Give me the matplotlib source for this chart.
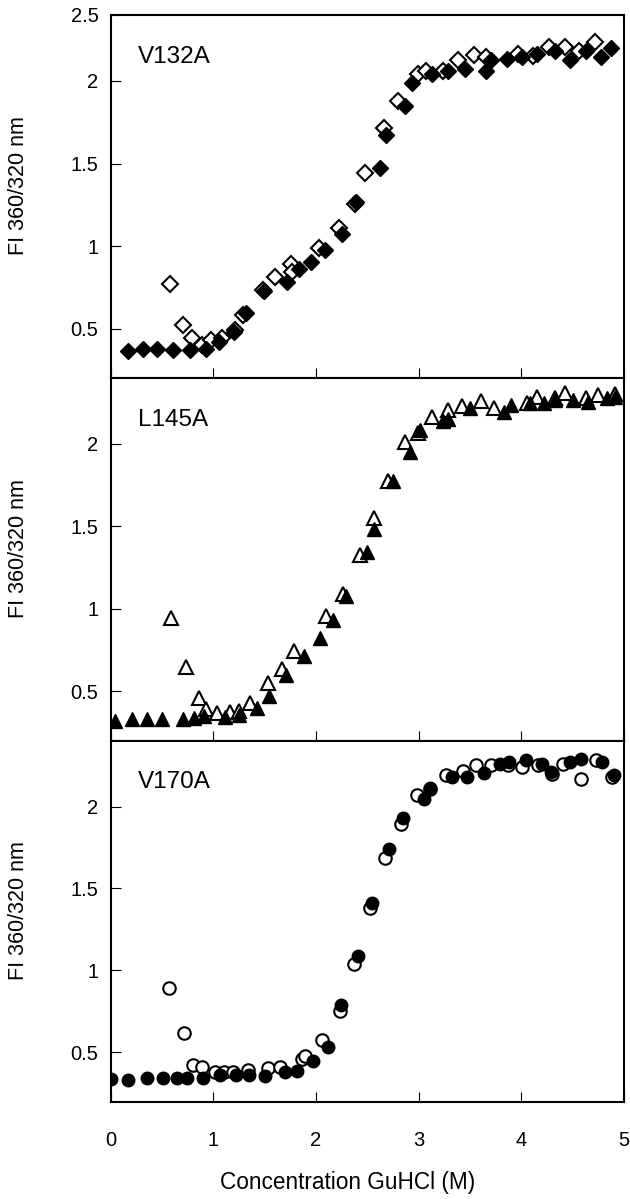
import matplotlib
matplotlib.use('Agg')
import matplotlib.pyplot as plt

plt.rcParams['font.family'] = ['Liberation Sans', 'DejaVu Sans']

# V132A, filled / open diamonds
v132_fill_x = [0.17, 0.31, 0.45, 0.61, 0.77, 0.93, 1.05, 1.20, 1.32, 1.49, 1.72, 1.83, 1.95,
               2.09, 2.25, 2.39, 2.62, 2.68, 2.87, 2.94, 3.13, 3.29, 3.45, 3.66, 3.71, 3.86,
               4.01, 4.15, 4.33, 4.48, 4.63, 4.78, 4.88]
v132_fill_y = [0.365, 0.375, 0.375, 0.367, 0.367, 0.375, 0.42, 0.477, 0.594, 0.726, 0.78, 0.862,
               0.905, 0.976, 1.075, 1.264, 1.47, 1.67, 1.848, 1.99, 2.045, 2.06, 2.07, 2.06, 2.13,
               2.136, 2.146, 2.166, 2.18, 2.126, 2.18, 2.146, 2.20]
v132_open_x = [0.58, 0.70, 0.79, 0.89, 0.98, 1.08, 1.21, 1.29, 1.48, 1.60, 1.76, 1.77, 2.03,
               2.22, 2.38, 2.48, 2.66, 2.80, 2.99, 3.07, 3.24, 3.38, 3.54, 3.66, 3.97, 4.12,
               4.27, 4.43, 4.56, 4.72]
v132_open_y = [0.767, 0.523, 0.442, 0.40, 0.428, 0.442, 0.49, 0.584, 0.736, 0.81, 0.889, 0.842,
               0.99, 1.112, 1.254, 1.442, 1.714, 1.876, 2.04, 2.06, 2.06, 2.126, 2.16, 2.146,
               2.166, 2.152, 2.207, 2.207, 2.18, 2.237]

# L145A, filled / open triangles
l145_fill_x = [0.04, 0.21, 0.35, 0.50, 0.70, 0.81, 0.91, 1.11, 1.25, 1.42, 1.54, 1.71, 1.88,
               2.04, 2.17, 2.29, 2.50, 2.57, 2.75, 2.92, 3.01, 3.24, 3.29, 3.50, 3.83, 3.90,
               4.09, 4.22, 4.33, 4.51, 4.65, 4.84, 4.92]
l145_fill_y = [0.321, 0.331, 0.331, 0.331, 0.331, 0.337, 0.347, 0.341, 0.357, 0.40, 0.469, 0.60,
               0.711, 0.822, 0.933, 1.079, 1.347, 1.483, 1.776, 1.954, 2.085, 2.141, 2.149, 2.22,
               2.196, 2.236, 2.246, 2.246, 2.267, 2.267, 2.257, 2.277, 2.287]
l145_open_x = [0.59, 0.73, 0.86, 0.93, 1.03, 1.16, 1.25, 1.36, 1.53, 1.67, 1.79, 2.10, 2.26,
               2.43, 2.57, 2.70, 2.87, 2.99, 3.13, 3.29, 3.42, 3.61, 3.74, 4.06, 4.15, 4.33,
               4.43, 4.63, 4.75, 4.92]
l145_open_y = [0.943, 0.644, 0.459, 0.392, 0.368, 0.372, 0.378, 0.428, 0.549, 0.634, 0.745,
               0.954, 1.091, 1.327, 1.549, 1.778, 2.014, 2.069, 2.166, 2.206, 2.23, 2.263, 2.22,
               2.251, 2.287, 2.277, 2.311, 2.277, 2.297, 2.303]

# V170A, filled / open circles
v170_fill_x = [0.0, 0.17, 0.35, 0.51, 0.64, 0.74, 0.90, 1.06, 1.22, 1.35, 1.50, 1.70, 1.81,
               1.97, 2.12, 2.24, 2.41, 2.55, 2.71, 2.85, 3.05, 3.11, 3.33, 3.47, 3.64, 3.79,
               3.88, 4.05, 4.20, 4.29, 4.48, 4.58, 4.79, 4.91]
v170_fill_y = [0.338, 0.332, 0.342, 0.342, 0.342, 0.342, 0.342, 0.359, 0.359, 0.359, 0.355,
               0.379, 0.389, 0.449, 0.53, 0.786, 1.086, 1.41, 1.738, 1.927, 2.049, 2.116, 2.18,
               2.18, 2.205, 2.262, 2.272, 2.286, 2.262, 2.211, 2.272, 2.292, 2.272, 2.191]
v170_open_x = [0.57, 0.71, 0.80, 0.89, 1.02, 1.10, 1.19, 1.34, 1.53, 1.65, 1.86, 1.89, 2.06,
               2.23, 2.37, 2.53, 2.67, 2.83, 2.98, 3.11, 3.27, 3.43, 3.56, 3.71, 3.87, 4.01,
               4.16, 4.30, 4.41, 4.58, 4.73, 4.89]
v170_open_y = [0.895, 0.618, 0.423, 0.409, 0.383, 0.383, 0.383, 0.393, 0.403, 0.409, 0.46,
               0.476, 0.575, 0.752, 1.041, 1.383, 1.684, 1.892, 2.069, 2.11, 2.195, 2.215,
               2.252, 2.252, 2.252, 2.241, 2.256, 2.201, 2.262, 2.17, 2.286, 2.181]

panels = [
    ('V132A', 'D', 8.3, v132_fill_x, v132_fill_y, v132_open_x, v132_open_y),
    ('L145A', '^', 10, l145_fill_x, l145_fill_y, l145_open_x, l145_open_y),
    ('V170A', 'o', 9, v170_fill_x, v170_fill_y, v170_open_x, v170_open_y),
]

fig = plt.figure(figsize=(6.3, 11.99), dpi=100)
left, width = 0.176, 0.814
bottoms = [0.6847, 0.3824, 0.0813]
heights = [0.3028, 0.3023, 0.3007]

for i, (name, mk, ms, fx, fy, ox, oy) in enumerate(panels):
    ax = fig.add_axes([left, bottoms[i], width, heights[i]])
    # open first, filled drawn over it
    ax.plot(ox, oy, linestyle='none', marker=mk, ms=ms, mfc='white', mec='black', mew=1.5)
    ax.plot(fx, fy, linestyle='none', marker=mk, ms=ms, mfc='black', mec='black', mew=1.0)
    ax.set_xlim(0, 5)
    ax.set_ylim(0.2, 2.4)
    if i == 0:
        # top label of the first panel sits on the upper frame
        ax.set_yticks([0.5, 1, 1.5, 2, 2.4], ['0.5', '1', '1.5', '2', '2.5'])
    else:
        ax.set_yticks([0.5, 1, 1.5, 2], ['0.5', '1', '1.5', '2'])
    ax.set_xticks([0, 1, 2, 3, 4, 5])
    for s in ['left', 'bottom', 'right', 'top']:
        ax.spines[s].set_linewidth(1.5)
    ax.tick_params(direction='in', length=7, width=0.8, labelsize=14.5, pad=9,
                   top=False, right=False)
    ax.tick_params(axis='x', pad=21)
    if i < 2:
        ax.tick_params(axis='x', labelbottom=False)
    ax.set_ylabel('FI 360/320 nm', fontsize=15.5)
    ax.yaxis.set_label_coords(-0.16, 0.53)
    ax.text(0.053, 0.885, name, transform=ax.transAxes, fontsize=17.5, va='center', ha='left')
    if i == 2:
        ax.set_xlabel('Concentration GuHCl (M)', fontsize=16.3)
        ax.xaxis.set_label_coords(0.462, -0.193)

fig.savefig('out.png', dpi=100)
